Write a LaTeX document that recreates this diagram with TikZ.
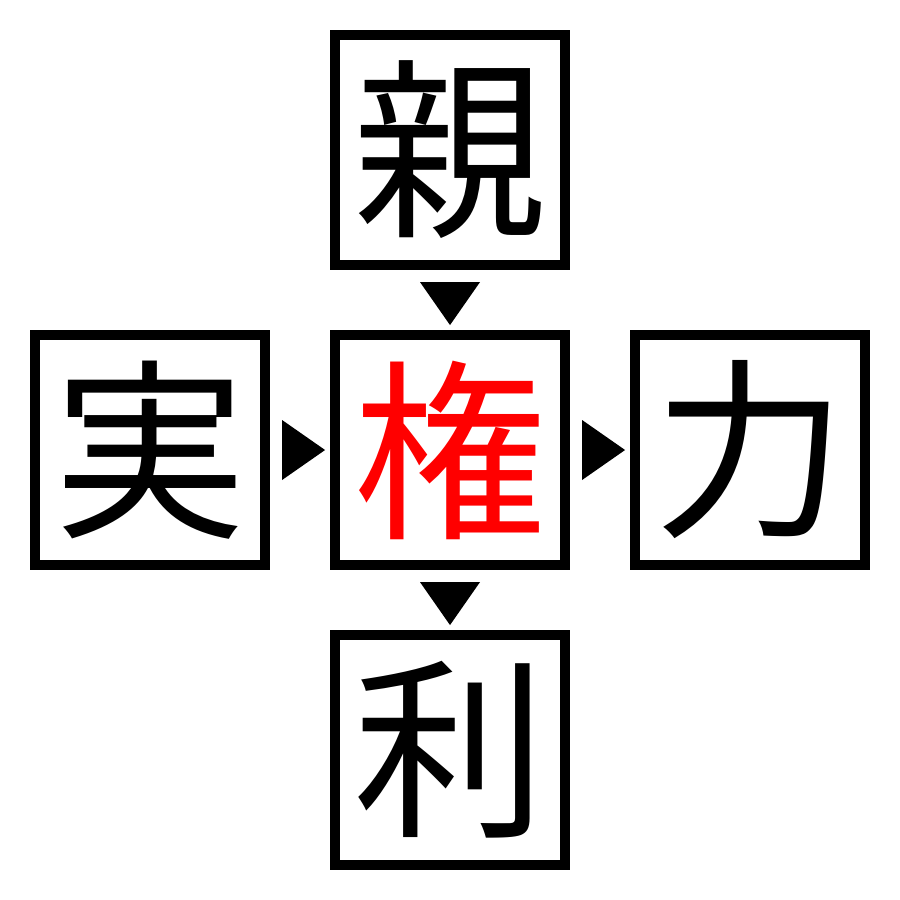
\documentclass[tikz,border=0pt]{standalone}
\usepackage{fontspec}
\newfontfamily\cjk{Noto Sans CJK JP}
\usetikzlibrary{calc}
\tikzset{
  kbox/.style={draw=black, line width=0.1cm, minimum size=2.3cm, inner sep=0pt, fill=white,
    font=\cjk\fontsize{55pt}{55pt}\selectfont},
  tri/.style={fill=black}
}
\begin{document}
\begin{tikzpicture}[x=0.01cm,y=-0.01cm]
\useasboundingbox (0,0) rectangle (900,900);
\node[kbox] (top) at (450,150) {親};
\node[kbox] (l) at (150,450) {実};
\node[kbox, text=red] (c) at (450,450) {権};
\node[kbox] (r) at (750,450) {力};
\node[kbox] (b) at (450,750) {利};
% arrows
\fill[tri] ($(top.south)+(-30,12)$) -- ($(top.south)+(30,12)$) -- ($(top.south)+(0,55)$) -- cycle;
\fill[tri] ($(l.east)+(12,-30)$) -- ($(l.east)+(12,30)$) -- ($(l.east)+(55,0)$) -- cycle;
\fill[tri] ($(c.east)+(12,-30)$) -- ($(c.east)+(12,30)$) -- ($(c.east)+(55,0)$) -- cycle;
\fill[tri] ($(c.south)+(-30,12)$) -- ($(c.south)+(30,12)$) -- ($(c.south)+(0,55)$) -- cycle;
\end{tikzpicture}
\end{document}
